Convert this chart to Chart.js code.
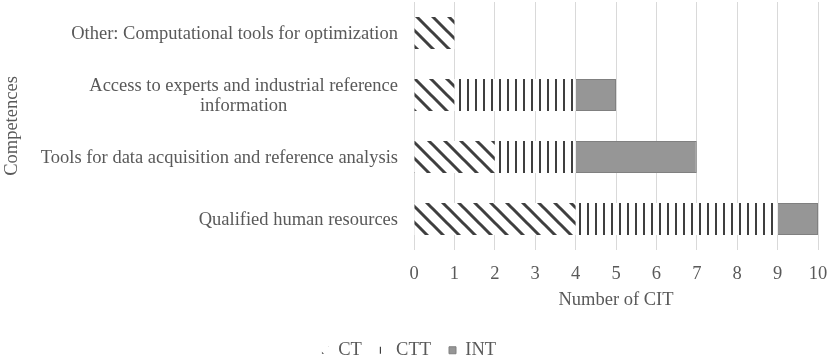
<!DOCTYPE html>
<html>
<head>
<meta charset="utf-8">
<script src="https://cdn.jsdelivr.net/npm/chart.js@4/dist/chart.umd.min.js"></script>
<style>
  html, body { margin: 0; padding: 0; background: #ffffff; }
  #wrap { width: 829px; height: 361px; position: relative; }
</style>
</head>
<body>
<div id="wrap"><canvas id="c" width="829" height="361"></canvas></div>
<script>
// ---- data ----
const categories = [
  ["Other: Computational tools for optimization"],
  ["Access to experts and industrial reference", "information"],
  ["Tools for data acquisition and reference analysis"],
  ["Qualified human resources"]
];
const seriesNames = ["CT", "CTT", "INT"];
const ctValues  = [1, 1, 2, 4];
const cttValues = [0, 3, 2, 5];
const intValues = [0, 1, 3, 1];
const xTickMin = 0, xTickMax = 10, xTickStep = 1;
const xTitle = "Number of CIT";
const yTitle = "Competences";

// ---- styles ----
const FONT = '"Liberation Serif", "Times New Roman", serif';
const FS = 18.5;
const TEXT = "#595959";

function diagPattern() {
  const s = 16;
  const c = document.createElement('canvas');
  c.width = s; c.height = s;
  const g = c.getContext('2d');
  g.fillStyle = '#ffffff'; g.fillRect(0, 0, s, s);
  g.strokeStyle = '#3f3f3f'; g.lineWidth = 3;
  g.beginPath();
  g.moveTo(-4, -4); g.lineTo(s + 4, s + 4);
  g.moveTo(-4, s - 4); g.lineTo(4, s + 4);
  g.moveTo(s - 4, -4); g.lineTo(s + 4, 4);
  g.stroke();
  return g.createPattern(c, 'repeat');
}
function vertPattern() {
  const w = 8, h = 8;
  const c = document.createElement('canvas');
  c.width = w; c.height = h;
  const g = c.getContext('2d');
  g.fillStyle = '#ffffff'; g.fillRect(0, 0, w, h);
  g.fillStyle = '#3f3f3f'; g.fillRect(3, 0, 2, h);
  return g.createPattern(c, 'repeat');
}

// custom y labels: block right-aligned, lines centered within block (like the source)
const yLabelPlugin = {
  id: 'yLabels',
  afterDraw(chart) {
    const sc = chart.scales.y;
    const ctx = chart.ctx;
    ctx.save();
    ctx.font = FS + "px " + FONT;
    ctx.fillStyle = TEXT;
    ctx.textBaseline = 'middle';
    ctx.textAlign = 'center';
    const right = 398, lh = 19.5;
    categories.forEach((lines, i) => {
      const py = sc.getPixelForTick(i);
      const w = Math.max(...lines.map(l => ctx.measureText(l).width));
      const cx = right - w / 2;
      const y0 = py - (lines.length - 1) * lh / 2 + 1;
      lines.forEach((l, k) => ctx.fillText(l, cx, y0 + k * lh));
    });
    ctx.restore();
  }
};

const ctx = document.getElementById('c').getContext('2d');
new Chart(ctx, {
  type: 'bar',
  data: {
    labels: categories,
    datasets: [
      { label: seriesNames[0], data: ctValues,  backgroundColor: diagPattern(), borderWidth: 0 },
      { label: seriesNames[1], data: cttValues, backgroundColor: vertPattern(), borderWidth: 0 },
      { label: seriesNames[2], data: intValues, backgroundColor: '#969696', borderColor: '#808080', borderWidth: 1 }
    ]
  },
  options: {
    indexAxis: 'y',
    responsive: false,
    animation: false,
    devicePixelRatio: 1,
    datasets: { bar: { barPercentage: 0.52, categoryPercentage: 1.0 } },
    layout: { padding: { left: 0, right: 11, top: 2, bottom: 0 } },
    plugins: {
      tooltip: { enabled: false },
      legend: {
        position: 'bottom',
        maxHeight: 38,
        labels: {
          boxWidth: 7, boxHeight: 7, padding: 18,
          color: TEXT,
          font: { family: FONT, size: FS }
        }
      }
    },
    scales: {
      x: {
        stacked: true,
        min: xTickMin, max: xTickMax,
        ticks: { stepSize: xTickStep, color: TEXT, font: { family: FONT, size: FS }, padding: 13, maxRotation: 0 },
        grid: { color: '#d9d9d9', lineWidth: 1, drawTicks: false },
        border: { display: false },
        title: { display: true, text: xTitle, color: TEXT, font: { family: FONT, size: FS }, padding: { top: 4, bottom: 12 } },
        afterFit(s) { s.height = 73; s.paddingRight = 0; s.paddingLeft = 0; }
      },
      y: {
        stacked: true,
        ticks: { display: false },
        grid: { display: false },
        border: { display: false },
        title: { display: true, text: yTitle, color: TEXT, font: { family: FONT, size: FS }, padding: { top: 1, bottom: 0 } },
        afterFit(s) { s.width = 414; }
      }
    }
  },
  plugins: [yLabelPlugin]
});
</script>
</body>
</html>
